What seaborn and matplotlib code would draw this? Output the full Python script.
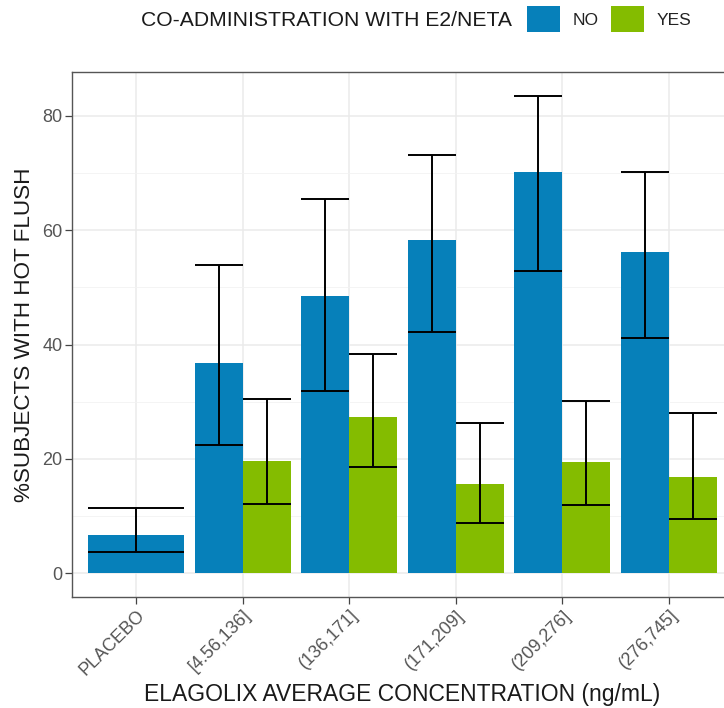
import matplotlib
matplotlib.use("Agg")
import matplotlib.pyplot as plt
from matplotlib.patches import Patch
import numpy as np
import pandas as pd
import seaborn as sns

# Concentration bins (x categories) and groups
categories = ["PLACEBO", "[4.56,136]", "(136,171]", "(171,209]", "(209,276]", "(276,745]"]
groups = ["NO", "YES"]

# Percent of subjects with hot flush, with 95% CI bounds
placebo_pct = [6.7]
placebo_lo = [3.7]
placebo_hi = [11.4]

no_pct = [36.8, 48.4, 58.3, 70.1, 56.1]
no_lo = [22.4, 31.8, 42.1, 52.8, 41.2]
no_hi = [53.9, 65.5, 73.2, 83.5, 70.2]

yes_pct = [19.7, 27.4, 15.6, 19.5, 16.9]
yes_lo = [12.1, 18.5, 8.7, 11.9, 9.5]
yes_hi = [30.4, 38.3, 26.2, 30.1, 28.1]

blue = "#0680BA"
green = "#84BC00"

sns.set_theme(style="whitegrid")
plt.rcParams["font.family"] = ["Liberation Sans", "DejaVu Sans"]

placebo_df = pd.DataFrame({"conc": categories[:1], "pct": placebo_pct,
                           "lo": placebo_lo, "hi": placebo_hi})
active_df = pd.DataFrame({
    "conc": categories[1:] * 2,
    "grp": ["NO"] * 5 + ["YES"] * 5,
    "pct": no_pct + yes_pct,
    "lo": no_lo + yes_lo,
    "hi": no_hi + yes_hi,
})

fig = plt.figure(figsize=(7.24, 7.08), dpi=100)
ax = fig.add_axes([72 / 724, 111 / 708, 661 / 724, 525 / 708])

sns.barplot(data=placebo_df, x="conc", y="pct", order=categories, color=blue,
            width=0.9, errorbar=None, saturation=1, linewidth=0, ax=ax)
sns.barplot(data=active_df, x="conc", y="pct", hue="grp", order=categories,
            hue_order=groups, palette=[blue, green], width=0.9, errorbar=None,
            saturation=1, dodge=True, linewidth=0, ax=ax, legend=False)

# Error bars spanning each bar's width
bars = [p for p in ax.patches if p.get_height() > 0]
lookup = {}
for p in bars:
    lookup[round(p.get_height(), 3)] = p
ci_rows = list(zip(placebo_pct, placebo_lo, placebo_hi)) + \
    list(zip(no_pct, no_lo, no_hi)) + list(zip(yes_pct, yes_lo, yes_hi))
for val, lo, hi in ci_rows:
    p = lookup[round(val, 3)]
    x0 = p.get_x()
    x1 = x0 + p.get_width()
    xc = x0 + p.get_width() / 2
    ax.vlines(xc, lo, hi, color="black", lw=1.4, zorder=4)
    ax.hlines([lo, hi], x0, x1, color="black", lw=1.4, zorder=4)

ax.set_xlim(-0.6, 5.6)
ax.set_ylim(-4.175, 87.675)
ax.set_yticks([0, 20, 40, 60, 80])
ax.set_yticks([10, 30, 50, 70], minor=True)

ax.grid(True, which="major", axis="both", color="#EBEBEB", lw=1.1)
ax.grid(True, which="minor", axis="y", color="#F2F2F2", lw=0.6)
ax.set_axisbelow(True)
for s in ax.spines.values():
    s.set_color("#555555")
    s.set_linewidth(1.0)

ax.tick_params(axis="both", which="major", length=5, width=0.9, color="#444444",
               labelcolor="#555555", labelsize=13, direction="out", pad=2,
               bottom=True, left=True)
ax.tick_params(axis="both", which="minor", length=0)
plt.setp(ax.get_xticklabels(), rotation=45, ha="right", va="top",
         rotation_mode="anchor")

ax.set_xlabel("ELAGOLIX AVERAGE CONCENTRATION (ng/mL)", fontsize=16.5,
              color="#1A1A1A", labelpad=3)
ax.set_ylabel("%SUBJECTS WITH HOT FLUSH", fontsize=16.2, color="#1A1A1A",
              labelpad=5)

# Legend across the top
fig.text(512 / 724, 1 - 20 / 708, "CO-ADMINISTRATION WITH E2/NETA", ha="right",
         va="center", fontsize=15.2, color="#1A1A1A")
handles = [Patch(facecolor=blue, edgecolor="none", label="NO"),
           Patch(facecolor=green, edgecolor="none", label="YES")]
fig.legend(handles=handles, loc="center left", bbox_to_anchor=(525 / 724, 1 - 19 / 708),
           ncol=2, frameon=False, fontsize=12.5, handlelength=1.9, handleheight=1.9,
           handletextpad=0.75, columnspacing=0.7, borderaxespad=0, borderpad=0.1,
           labelcolor="#222222")

fig.savefig("out.png", dpi=100)
